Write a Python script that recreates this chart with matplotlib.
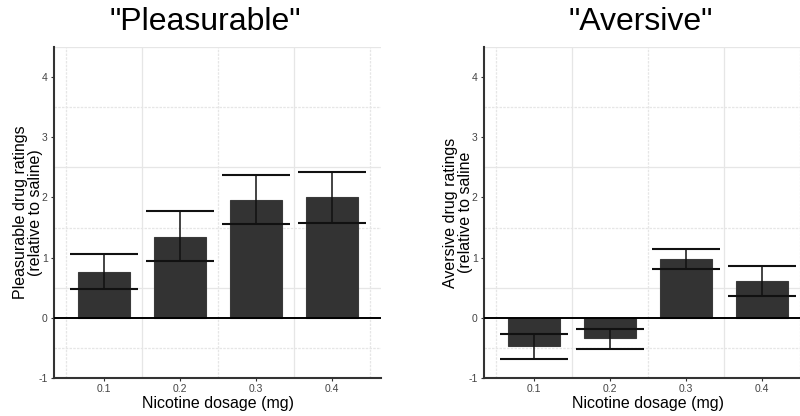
import matplotlib
matplotlib.use("Agg")
import matplotlib.pyplot as plt
import numpy as np

plt.rcParams['font.family'] = ['Liberation Sans', 'DejaVu Sans']

doses = ["0.1", "0.2", "0.3", "0.4"]
pleasurable_mean = [0.76, 1.35, 1.95, 2.00]
pleasurable_low = [0.48, 0.94, 1.55, 1.58]
pleasurable_high = [1.06, 1.78, 2.37, 2.43]
aversive_mean = [-0.47, -0.34, 0.97, 0.61]
aversive_low = [-0.69, -0.52, 0.81, 0.37]
aversive_high = [-0.27, -0.19, 1.14, 0.86]
yticks = [-1, 0, 1, 2, 3, 4]

fig = plt.figure(figsize=(8, 4.16), dpi=100)
axL = fig.add_axes([0.0675, 0.0913, 0.409, 0.796])
axR = fig.add_axes([0.605, 0.0913, 0.409, 0.796])

panels = [
    (axL, pleasurable_mean, pleasurable_low, pleasurable_high,
     '"Pleasurable"', "Pleasurable drug ratings\n(relative to saline)", 205),
    (axR, aversive_mean, aversive_low, aversive_high,
     '"Aversive"', "Aversive drug ratings\n(relative to saline", 641),
]

for ax, mean, low, high, title, ylabel, tx in panels:
    x = np.arange(1, len(doses) + 1)
    ax.set_xlim(0.34, 4.645)
    ax.set_ylim(-1, 4.5)
    # grid
    for i, gx in enumerate(np.arange(0.5, 5.0, 1.0)):
        ax.axvline(gx, color="#e6e6e6", lw=0.9,
                   ls=(0, (2, 1)) if i % 2 == 0 else "-", zorder=0)
    for i, gy in enumerate(np.arange(-0.5, 5.0, 1.0)):
        ax.axhline(gy, color="#e6e6e6", lw=0.9,
                   ls=(0, (2, 1)) if i % 2 == 0 else "-", zorder=0)
    ax.bar(x, mean, width=0.68, color="#333333", edgecolor="#3a3a3a",
           lw=0.8, zorder=2)
    ax.axhline(0, color="black", lw=1.4, zorder=3)
    ax.vlines(x, low, high, color="#111111", lw=1.1, zorder=4)
    ax.hlines(low, x - 0.45, x + 0.45, color="#111111", lw=1.5, zorder=4)
    ax.hlines(high, x - 0.45, x + 0.45, color="#111111", lw=1.5, zorder=4)

    ax.set_xticks(x)
    ax.set_xticklabels(doses, fontsize=7.5, color="#444444")
    ax.set_yticks(yticks)
    ax.set_yticklabels([str(v) for v in yticks], fontsize=7.5, color="#444444")
    ax.tick_params(axis="both", length=2.5, width=0.8, color="#333333", pad=2)
    for s in ["top", "right"]:
        ax.spines[s].set_visible(False)
    for s in ["left", "bottom"]:
        ax.spines[s].set_color("#333333")
        ax.spines[s].set_linewidth(1.5)
    ax.set_xlabel("Nicotine dosage (mg)", fontsize=11.5, labelpad=1)
    ax.set_ylabel(ylabel, fontsize=11.5, labelpad=-3, linespacing=0.95)
    fig.text(tx / 800, 1 - 22 / 416, title, fontsize=23, ha="center", va="center")

fig.savefig("out.png", dpi=100)
